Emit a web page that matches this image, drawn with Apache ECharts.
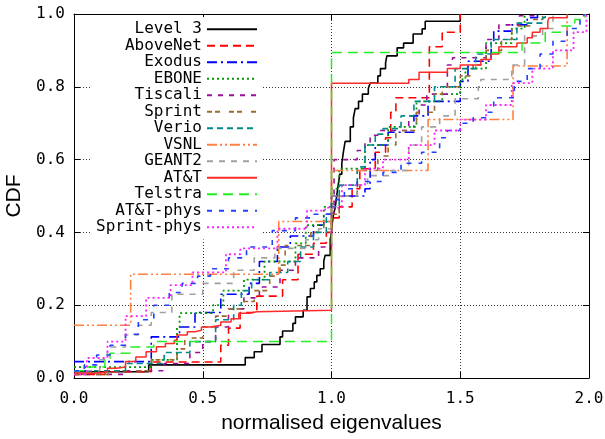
<!DOCTYPE html>
<html><head><meta charset="utf-8">
<script src="https://cdn.jsdelivr.net/npm/echarts@6/dist/echarts.min.js"></script>
<style>html,body{margin:0;padding:0;background:#fff;}#c{width:605px;height:439px;}</style>
</head><body><div id="c"></div>
<script>
// ---- data (x = normalised eigenvalue, y = CDF after the step) ----
const names = ['Level 3','AboveNet','Exodus','EBONE','Tiscali','Sprint','Verio','VSNL','GEANT2','AT&T','Telstra','AT&T-phys','Sprint-phys'];
const xTicks = [0, 0.5, 1.0, 1.5, 2.0];
const yTicks = [0, 0.2, 0.4, 0.6, 0.8, 1.0];

const level3 = [[0,0.017],[0.29,0.036],[0.665,0.056],[0.70,0.072],[0.73,0.092],[0.80,0.113],[0.81,0.129],[0.85,0.15],[0.86,0.168],[0.89,0.186],[0.905,0.223],[0.918,0.246],[0.933,0.264],[0.943,0.282],[0.956,0.30],[0.97,0.32],[0.975,0.337],[0.995,0.38],[1.0,0.40],[1.002,0.42],[1.008,0.45],[1.015,0.47],[1.02,0.50],[1.026,0.53],[1.032,0.56],[1.04,0.59],[1.046,0.62],[1.053,0.65],[1.073,0.69],[1.085,0.715],[1.092,0.74],[1.105,0.76],[1.12,0.78],[1.143,0.795],[1.15,0.81],[1.18,0.83],[1.19,0.85],[1.21,0.866],[1.215,0.885],[1.255,0.907],[1.28,0.92],[1.317,0.945],[1.352,0.959],[1.364,0.98],[1.5,1.0]];
const aboveNet = [[0,0.01],[0.12,0.017],[0.3,0.044],[0.57,0.09],[0.6,0.137],[0.645,0.18],[0.71,0.225],[0.81,0.27],[0.87,0.34],[0.93,0.37],[0.98,0.40],[1.0,0.44],[1.03,0.47],[1.08,0.52],[1.11,0.575],[1.17,0.62],[1.21,0.66],[1.23,0.73],[1.25,0.77],[1.38,0.91],[1.43,0.95],[1.5,1.0]];
const exodus = [[0,0.045],[0.3,0.113],[0.41,0.14],[0.47,0.18],[0.57,0.23],[0.68,0.26],[0.72,0.32],[0.79,0.36],[0.84,0.39],[0.93,0.42],[0.97,0.45],[1.0,0.50],[1.13,0.52],[1.15,0.6],[1.17,0.64],[1.22,0.675],[1.32,0.72],[1.375,0.76],[1.5,0.815],[1.53,0.87],[1.62,0.92],[1.63,0.953],[1.7,0.97],[1.76,0.99],[1.8,1.0]];
const ebone = [[0,0.03],[0.3,0.05],[0.4,0.14],[0.41,0.178],[0.54,0.2],[0.58,0.24],[0.66,0.27],[0.74,0.32],[0.86,0.37],[0.9,0.42],[0.97,0.47],[1.0,0.52],[1.03,0.575],[1.13,0.64],[1.22,0.69],[1.33,0.76],[1.43,0.78],[1.5,0.82],[1.52,0.85],[1.6,0.92],[1.7,0.96],[1.75,1.0]];
const tiscali = [[0,0.01],[0.2,0.02],[0.35,0.04],[0.45,0.07],[0.5,0.1],[0.55,0.14],[0.6,0.19],[0.66,0.22],[0.72,0.25],[0.8,0.296],[0.86,0.33],[0.95,0.36],[1.0,0.45],[1.01,0.6],[1.1,0.625],[1.13,0.645],[1.15,0.667],[1.18,0.68],[1.3,0.72],[1.34,0.75],[1.37,0.78],[1.45,0.86],[1.47,0.88],[1.6,0.93],[1.65,0.97],[1.73,0.995],[1.79,1.0]];
const sprint = [[0,0.01],[0.15,0.02],[0.3,0.05],[0.4,0.08],[0.43,0.11],[0.5,0.14],[0.55,0.17],[0.6,0.19],[0.65,0.21],[0.7,0.24],[0.76,0.28],[0.8,0.31],[0.82,0.364],[0.92,0.4],[0.97,0.43],[1.0,0.45],[1.03,0.5],[1.1,0.57],[1.18,0.61],[1.22,0.64],[1.25,0.68],[1.33,0.73],[1.4,0.78],[1.43,0.80],[1.5,0.83],[1.55,0.86],[1.6,0.9],[1.66,0.93],[1.7,0.967],[1.77,0.985],[1.82,1.0]];
const verio = [[0,0.02],[0.2,0.04],[0.35,0.07],[0.45,0.1],[0.55,0.16],[0.62,0.2],[0.65,0.24],[0.69,0.27],[0.76,0.29],[0.83,0.32],[0.88,0.36],[0.93,0.4],[0.98,0.44],[1.0,0.47],[1.03,0.53],[1.1,0.58],[1.13,0.64],[1.17,0.67],[1.2,0.685],[1.27,0.72],[1.32,0.76],[1.4,0.80],[1.48,0.85],[1.56,0.89],[1.62,0.93],[1.72,0.975],[1.82,0.99],[1.83,1.0]];
const vsnl = [[0,0.145],[0.22,0.285],[0.795,0.43],[1.0,0.57],[1.375,0.71],[1.705,0.857],[1.915,1.0]];
const geant2 = [[0,0.02],[0.1,0.05],[0.13,0.085],[0.2,0.118],[0.25,0.145],[0.3,0.18],[0.38,0.23],[0.5,0.26],[0.62,0.296],[0.7,0.33],[0.78,0.356],[0.9,0.38],[0.95,0.41],[1.0,0.5],[1.1,0.53],[1.14,0.556],[1.23,0.57],[1.3,0.64],[1.35,0.69],[1.42,0.72],[1.48,0.767],[1.57,0.8],[1.58,0.82],[1.7,0.86],[1.75,0.94],[1.82,0.96],[1.86,1.0]];
const att = [[0,0.013],[0.08,0.017],[0.13,0.027],[0.165,0.03],[0.2,0.045],[0.24,0.058],[0.28,0.072],[0.32,0.086],[0.355,0.095],[0.39,0.104],[0.40,0.118],[0.44,0.127],[0.47,0.131],[0.495,0.14],[0.53,0.145],[0.57,0.154],[0.61,0.163],[0.64,0.178],[0.68,0.182],[0.71,0.186],[1.0,0.81],[1.3,0.82],[1.34,0.84],[1.45,0.85],[1.5,0.86],[1.58,0.875],[1.62,0.89],[1.65,0.91],[1.72,0.92],[1.76,0.935],[1.78,0.95],[1.81,0.96],[1.84,0.98],[1.845,0.99],[1.915,1.0]];
const telstra = [[0,0.02],[0.05,0.03],[0.12,0.05],[0.14,0.068],[0.22,0.085],[0.31,0.10],[1.0,0.894],[1.74,0.92],[1.83,0.95],[1.89,0.967],[1.945,0.985],[1.985,1.0]];
const attPhys = [[0,0.02],[0.04,0.036],[0.088,0.063],[0.14,0.09],[0.2,0.12],[0.25,0.16],[0.31,0.20],[0.37,0.235],[0.42,0.26],[0.48,0.28],[0.53,0.30],[0.6,0.33],[0.67,0.36],[0.77,0.405],[0.86,0.44],[0.925,0.45],[1.0,0.49],[1.05,0.52],[1.1,0.54],[1.2,0.565],[1.27,0.59],[1.35,0.62],[1.42,0.66],[1.45,0.68],[1.5,0.70],[1.55,0.715],[1.6,0.73],[1.63,0.77],[1.71,0.815],[1.76,0.85],[1.81,0.89],[1.86,0.925],[1.915,0.96],[1.965,0.995],[1.98,1.0]];
const sprintPhys = [[0,0.01],[0.05,0.055],[0.13,0.1],[0.2,0.17],[0.28,0.22],[0.375,0.255],[0.46,0.29],[0.59,0.34],[0.646,0.356],[0.79,0.41],[0.905,0.46],[0.975,0.468],[1.04,0.53],[1.13,0.575],[1.2,0.60],[1.3,0.64],[1.4,0.68],[1.5,0.71],[1.6,0.75],[1.7,0.81],[1.78,0.85],[1.86,0.9],[1.94,0.95],[1.99,1.0]];

const allData = [level3, aboveNet, exodus, ebone, tiscali, sprint, verio, vsnl, geant2, att, telstra, attPhys, sprintPhys];

// ---- styles ----
const colors = ['#000000','#ff0000','#0000ff','#009a00','#9a109a','#9a6a30','#008a8a','#ff7f40','#a0a0a0','#ff2a2a','#22ee22','#2040ff','#ff20ff'];
const dashes = ['solid',[8,5],[10,4,2,4],[2,3],[5,6],[5,3,5,9],[6,4],[10,3,2,3,2,3],[6,6],'solid',[10,6],[5,7],[2,3]];
const widths = [1.6,1.6,1.6,1.8,1.6,1.6,1.6,1.6,1.6,1.5,1.5,1.6,1.8];

const mono = 'DejaVu Sans Mono';
const chart = echarts.init(document.getElementById('c'), null, {renderer:'canvas'});
const gridLine = {show:true, lineStyle:{color:'#333', width:1, type:[1,2]}};
const fmt = v => v.toFixed(1);

chart.setOption({
  animation:false,
  backgroundColor:'#fff',
  grid:{left:74, right:16, top:14, bottom:61, containLabel:false, outerBoundsMode:'none'},
  xAxis:[
    {type:'value', min:0, max:2, interval:0.5, position:'bottom',
     axisLine:{show:true, onZero:false, lineStyle:{color:'#000', width:1}},
     axisTick:{show:true, inside:true, length:6, lineStyle:{color:'#000'}},
     axisLabel:{formatter:fmt, fontFamily:mono, fontSize:16, color:'#000', margin:13},
     splitLine:gridLine,
     name:'normalised eigenvalues', nameLocation:'middle', nameGap:35,
     nameTextStyle:{fontFamily:'Liberation Sans', fontSize:21, color:'#000'}},
    {type:'value', min:0, max:2, interval:0.5, position:'top',
     axisLine:{show:true, onZero:false, lineStyle:{color:'#000', width:1}},
     axisTick:{show:true, inside:true, length:6, lineStyle:{color:'#000'}},
     axisLabel:{show:false}, splitLine:{show:false}}
  ],
  yAxis:[
    {type:'value', min:0, max:1, interval:0.2, position:'left',
     axisLine:{show:true, onZero:false, lineStyle:{color:'#000', width:1}},
     axisTick:{show:true, inside:true, length:6, lineStyle:{color:'#000'}},
     axisLabel:{formatter:fmt, fontFamily:mono, fontSize:16, color:'#000', margin:9},
     splitLine:gridLine,
     name:'CDF', nameLocation:'middle', nameGap:41, nameRotate:90,
     nameTextStyle:{fontFamily:'Liberation Sans', fontSize:21, color:'#000'}},
    {type:'value', min:0, max:1, interval:0.2, position:'right',
     axisLine:{show:true, onZero:false, lineStyle:{color:'#000', width:1}},
     axisTick:{show:true, inside:true, length:6, lineStyle:{color:'#000'}},
     axisLabel:{show:false}, splitLine:{show:false}}
  ],
  legend:{
    show:true, orient:'vertical', align:'right', right:343, top:17,
    itemWidth:50, itemHeight:14, itemGap:0, padding:[4,4,4,6],
    backgroundColor:'#fff', itemStyle:{opacity:0},
    textStyle:{fontFamily:mono, fontSize:16, lineHeight:16.5, color:'#000'},
    data:names
  },
  series: names.map((n,i)=>({
    name:n, type:'line', step:'end', symbol:'none', showSymbol:false,
    xAxisIndex:0, yAxisIndex:0,
    data: allData[i],
    lineStyle:{color:colors[i], width:widths[i], type:dashes[i]},
    itemStyle:{color:colors[i]},
    emphasis:{disabled:true},
    z: 2 + i*0.01
  }))
});
</script>
</body></html>
